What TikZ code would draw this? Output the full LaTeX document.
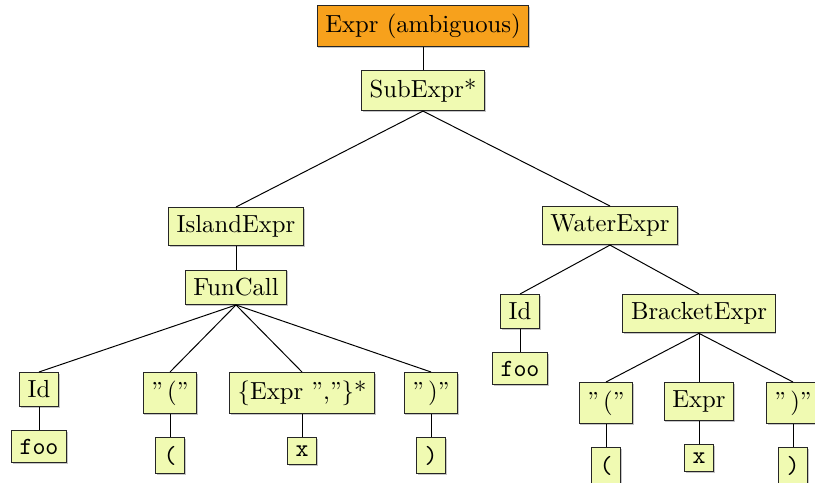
\documentclass[tikz,border=0pt]{standalone}
\usetikzlibrary{positioning,shadows}
\definecolor{amborange}{RGB}{247,161,28}
\definecolor{nodegreen}{RGB}{240,250,178}
\tikzset{tn/.style={draw=black!85, fill=nodegreen, anchor=north,
  drop shadow={shadow xshift=0.5pt, shadow yshift=-0.5pt, opacity=0.45}}}

\begin{document}
\begin{tikzpicture}[x=0.405pt, y=-0.405pt,
  node distance=9.4pt,
  amb/.style={tn, fill=amborange},
  leaf/.style={tn, font=\ttfamily},
]
  \useasboundingbox (0,0) rectangle (815,483);

  % ---- top ----
  \node[amb] (root) at (423,5) {Expr (ambiguous)};
  \node[tn, below=of root] (sub) {SubExpr*};

  % ---- island branch ----
  \node[tn] (island) at (236,207) {IslandExpr};
  \node[tn, below=of island] (funcall) {FunCall};
  \node[tn] (fid) at (39,372) {Id};
  \node[tn] (fopen) at (170,372) {''\,(''};
  \node[tn] (fargs) at (302,372) {\{Expr '',''\}*};
  \node[tn] (fclose) at (431,372) {''\,)''};
  \node[leaf, below=of fid] (ffoo) {foo};
  \node[leaf, below=of fopen] (fpar1) {(};
  \node[leaf, below=of fargs] (fx) {x};
  \node[leaf, below=of fclose] (fpar2) {)};

  % ---- water branch ----
  \node[tn] (water) at (610,206) {WaterExpr};
  \node[tn] (wid) at (520,294) {Id};
  \node[leaf, below=of wid] (wfoo) {foo};
  \node[tn] (brack) at (699,294) {BracketExpr};
  \node[tn] (bopen) at (606,382) {''\,(''};
  \node[tn] (bexpr) at (699,382) {Expr};
  \node[tn] (bclose) at (793,382) {''\,)''};
  \node[leaf, below=of bopen] (bpar1) {(};
  \node[leaf, below=of bexpr] (bx) {x};
  \node[leaf, below=of bclose] (bpar2) {)};

  % ---- edges ----
  \draw (root.south) -- (sub.north);
  \draw (sub.south) -- (island.north);
  \draw (sub.south) -- (water.north);
  \draw (island.south) -- (funcall.north);
  \foreach \c in {fid,fopen,fargs,fclose}
    \draw (funcall.south) -- (\c.north);
  \draw (fid.south) -- (ffoo.north);
  \draw (fopen.south) -- (fpar1.north);
  \draw (fargs.south) -- (fx.north);
  \draw (fclose.south) -- (fpar2.north);
  \draw (water.south) -- (wid.north);
  \draw (water.south) -- (brack.north);
  \draw (wid.south) -- (wfoo.north);
  \foreach \c in {bopen,bexpr,bclose}
    \draw (brack.south) -- (\c.north);
  \draw (bopen.south) -- (bpar1.north);
  \draw (bexpr.south) -- (bx.north);
  \draw (bclose.south) -- (bpar2.north);
\end{tikzpicture}
\end{document}
